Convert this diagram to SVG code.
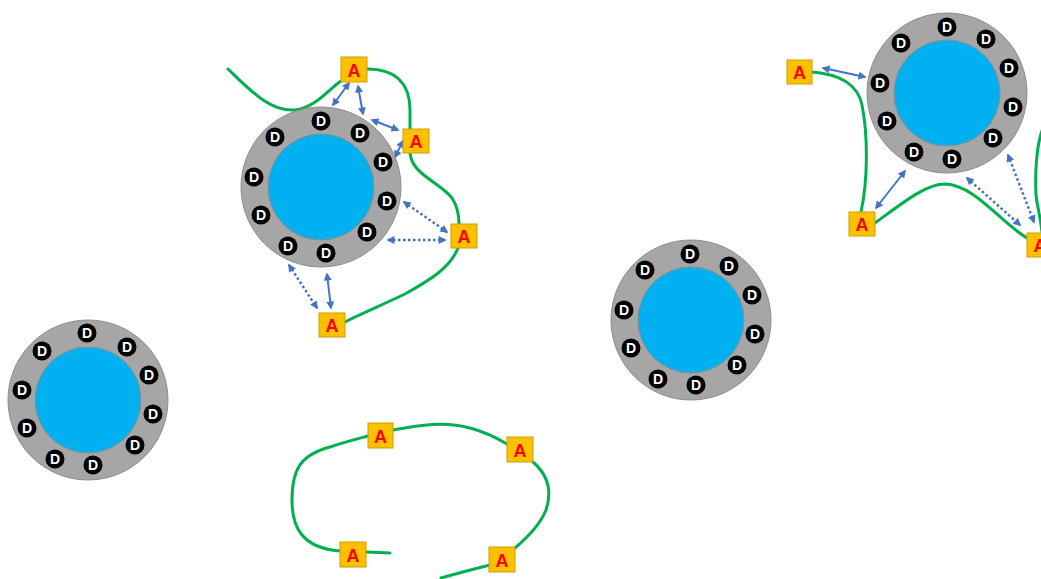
<svg xmlns="http://www.w3.org/2000/svg" width="1041" height="579" viewBox="0 0 1041 579">
<defs>
<style>
.ring{fill:#A6A6A6;stroke:#8C8C8C;stroke-width:1}
.core{fill:#00B0F0;stroke:#8C8C8C;stroke-width:1}
.dc{fill:#000}
.dt{fill:#fff;font-family:"Liberation Sans",Arial,sans-serif;font-weight:bold;font-size:14px;text-anchor:middle}
.ab{fill:#FFC000;stroke:#C9A000;stroke-width:1}
.at{fill:#FF0000;font-family:"Liberation Sans",Arial,sans-serif;font-weight:bold;font-size:18px;text-anchor:middle}
.g{fill:none;stroke:#00B050;stroke-width:3;stroke-linecap:round}
.s{fill:none;stroke:#4472C4;stroke-width:2;marker-start:url(#ah);marker-end:url(#ah)}
.d{fill:none;stroke:#4472C4;stroke-width:2.5;stroke-dasharray:2.5 2.5;marker-start:url(#ah);marker-end:url(#ah)}
</style>
<marker id="ah" viewBox="0 0 10 10" refX="8" refY="5" markerUnits="userSpaceOnUse" markerWidth="9" markerHeight="8" orient="auto-start-reverse">
<path d="M0,0 L10,5 L0,10 z" fill="#4472C4"/>
</marker>
</defs>
<rect width="1041" height="579" fill="#fff"/>

<g id="connectors">
<path class="g" d="M228,69 C250,90 270,112 295,110 C315,108 330,88 341,81"/>
<path class="g" d="M367,69 C397,69 410,85 410,110 L410,129"/>
<path class="g" d="M410,153 C412,175 440,182 452,198 C458,207 459,215 459,224"/>
<path class="g" d="M458,248 C450,268 430,280 405,294 C380,306 360,314 345,322"/>
<path class="g" d="M812,72 C840,74 858,85 862,105 C868,135 868,180 861,212"/>
<path class="g" d="M875,223 C900,205 925,184 945,184 C975,185 1000,222 1027,238"/>
<path class="g" d="M1043,128 C1036,145 1035,175 1036,195 C1037,205 1040,215 1042,232"/>
<path class="g" d="M366,552 L390,553"/>
<path class="g" d="M340,551 C300,548 292,525 292,500 C292,470 300,455 330,447 C345,442 357,439 368,436"/>
<path class="g" d="M393,430 C420,425 445,421 470,428 C485,432 497,438 507,444"/>
<path class="g" d="M533,462 C548,475 552,492 546,510 C540,525 528,537 515,548"/>
<path class="g" d="M490,565 C470,570 455,574 441,578"/>
<line class="s" x1="349" y1="83" x2="333" y2="105"/>
<line class="s" x1="358" y1="86" x2="363" y2="114"/>
<line class="s" x1="372" y1="120" x2="398" y2="130"/>
<line class="s" x1="395" y1="157" x2="403" y2="141"/>
<line class="d" x1="404" y1="202" x2="447" y2="232"/>
<line class="d" x1="388" y1="240" x2="445" y2="240"/>
<line class="d" x1="289" y1="265" x2="317" y2="308"/>
<line class="s" x1="327" y1="274" x2="331" y2="308"/>
<line class="s" x1="823" y1="68" x2="865" y2="77"/>
<line class="s" x1="905" y1="171" x2="876" y2="208"/>
<line class="d" x1="967" y1="178" x2="1020" y2="225"/>
<line class="d" x1="1008" y1="155" x2="1034" y2="222"/>
</g>

<g id="wheel1" transform="translate(321,187)">
<circle class="ring" r="80"/><circle class="core" r="53"/>
<circle class="dc" cx="0" cy="-66" r="9.5"/><text class="dt" x="0" y="-61">D</text>
<circle class="dc" cx="39" cy="-54" r="9.5"/><text class="dt" x="39" y="-49">D</text>
<circle class="dc" cx="-46" cy="-50" r="9.5"/><text class="dt" x="-46" y="-45">D</text>
<circle class="dc" cx="62" cy="-25" r="9.5"/><text class="dt" x="62" y="-20">D</text>
<circle class="dc" cx="-67" cy="-10" r="9.5"/><text class="dt" x="-67" y="-5">D</text>
<circle class="dc" cx="66" cy="14" r="9.5"/><text class="dt" x="66" y="19">D</text>
<circle class="dc" cx="-60" cy="28" r="9.5"/><text class="dt" x="-60" y="33">D</text>
<circle class="dc" cx="46" cy="45" r="9.5"/><text class="dt" x="46" y="50">D</text>
<circle class="dc" cx="-33" cy="59" r="9.5"/><text class="dt" x="-33" y="64">D</text>
<circle class="dc" cx="5" cy="66" r="9.5"/><text class="dt" x="5" y="71">D</text>
</g>

<g id="wheel2" transform="translate(947,93)">
<circle class="ring" r="80"/><circle class="core" r="53"/>
<circle class="dc" cx="0" cy="-66" r="9.5"/><text class="dt" x="0" y="-61">D</text>
<circle class="dc" cx="39" cy="-54" r="9.5"/><text class="dt" x="39" y="-49">D</text>
<circle class="dc" cx="-46" cy="-50" r="9.5"/><text class="dt" x="-46" y="-45">D</text>
<circle class="dc" cx="62" cy="-25" r="9.5"/><text class="dt" x="62" y="-20">D</text>
<circle class="dc" cx="-67" cy="-10" r="9.5"/><text class="dt" x="-67" y="-5">D</text>
<circle class="dc" cx="66" cy="14" r="9.5"/><text class="dt" x="66" y="19">D</text>
<circle class="dc" cx="-60" cy="28" r="9.5"/><text class="dt" x="-60" y="33">D</text>
<circle class="dc" cx="46" cy="45" r="9.5"/><text class="dt" x="46" y="50">D</text>
<circle class="dc" cx="-33" cy="59" r="9.5"/><text class="dt" x="-33" y="64">D</text>
<circle class="dc" cx="5" cy="66" r="9.5"/><text class="dt" x="5" y="71">D</text>
</g>

<g id="wheel3" transform="translate(691,320)">
<circle class="ring" r="80"/><circle class="core" r="53"/>
<circle class="dc" cx="-1" cy="-66" r="9.5"/><text class="dt" x="-1" y="-61">D</text>
<circle class="dc" cx="38" cy="-54" r="9.5"/><text class="dt" x="38" y="-49">D</text>
<circle class="dc" cx="-46" cy="-50" r="9.5"/><text class="dt" x="-46" y="-45">D</text>
<circle class="dc" cx="61" cy="-25" r="9.5"/><text class="dt" x="61" y="-20">D</text>
<circle class="dc" cx="-67" cy="-10" r="9.5"/><text class="dt" x="-67" y="-5">D</text>
<circle class="dc" cx="64" cy="14" r="9.5"/><text class="dt" x="64" y="19">D</text>
<circle class="dc" cx="-60" cy="28" r="9.5"/><text class="dt" x="-60" y="33">D</text>
<circle class="dc" cx="46" cy="45" r="9.5"/><text class="dt" x="46" y="50">D</text>
<circle class="dc" cx="-33" cy="59" r="9.5"/><text class="dt" x="-33" y="64">D</text>
<circle class="dc" cx="5" cy="65" r="9.5"/><text class="dt" x="5" y="70">D</text>
</g>

<g id="wheel4" transform="translate(88,400)">
<circle class="ring" r="80"/><circle class="core" r="53"/>
<circle class="dc" cx="-1" cy="-67" r="9.5"/><text class="dt" x="-1" y="-62">D</text>
<circle class="dc" cx="39" cy="-53" r="9.5"/><text class="dt" x="39" y="-48">D</text>
<circle class="dc" cx="-46" cy="-49" r="9.5"/><text class="dt" x="-46" y="-44">D</text>
<circle class="dc" cx="61" cy="-25" r="9.5"/><text class="dt" x="61" y="-20">D</text>
<circle class="dc" cx="-66" cy="-10" r="9.5"/><text class="dt" x="-66" y="-5">D</text>
<circle class="dc" cx="65" cy="14" r="9.5"/><text class="dt" x="65" y="19">D</text>
<circle class="dc" cx="-61" cy="28" r="9.5"/><text class="dt" x="-61" y="33">D</text>
<circle class="dc" cx="47" cy="45" r="9.5"/><text class="dt" x="47" y="50">D</text>
<circle class="dc" cx="-33" cy="59" r="9.5"/><text class="dt" x="-33" y="64">D</text>
<circle class="dc" cx="5" cy="65" r="9.5"/><text class="dt" x="5" y="70">D</text>
</g>

<g id="a1"><rect class="ab" x="341" y="57" width="26" height="25"/><text class="at" x="354" y="76.5">A</text></g>
<g id="a2"><rect class="ab" x="403" y="129" width="26" height="24"/><text class="at" x="416" y="147.5">A</text></g>
<g id="a3"><rect class="ab" x="451" y="224" width="26" height="24"/><text class="at" x="464" y="242.5">A</text></g>
<g id="a4"><rect class="ab" x="319" y="313" width="26" height="24"/><text class="at" x="332" y="331.5">A</text></g>
<g id="a5"><rect class="ab" x="787" y="60" width="25" height="24"/><text class="at" x="799.5" y="78.5">A</text></g>
<g id="a6"><rect class="ab" x="849" y="212" width="26" height="24"/><text class="at" x="862" y="230.5">A</text></g>
<g id="a7"><rect class="ab" x="1027" y="233" width="26" height="24"/><text class="at" x="1040" y="251.5">A</text></g>
<g id="a8"><rect class="ab" x="368" y="423" width="25" height="25"/><text class="at" x="380.5" y="442.5">A</text></g>
<g id="a9"><rect class="ab" x="507" y="437" width="26" height="25"/><text class="at" x="520" y="456.5">A</text></g>
<g id="a10"><rect class="ab" x="340" y="542" width="26" height="25"/><text class="at" x="353" y="561.5">A</text></g>
<g id="a11"><rect class="ab" x="489" y="547" width="26" height="25"/><text class="at" x="502" y="566.5">A</text></g>
</svg>
